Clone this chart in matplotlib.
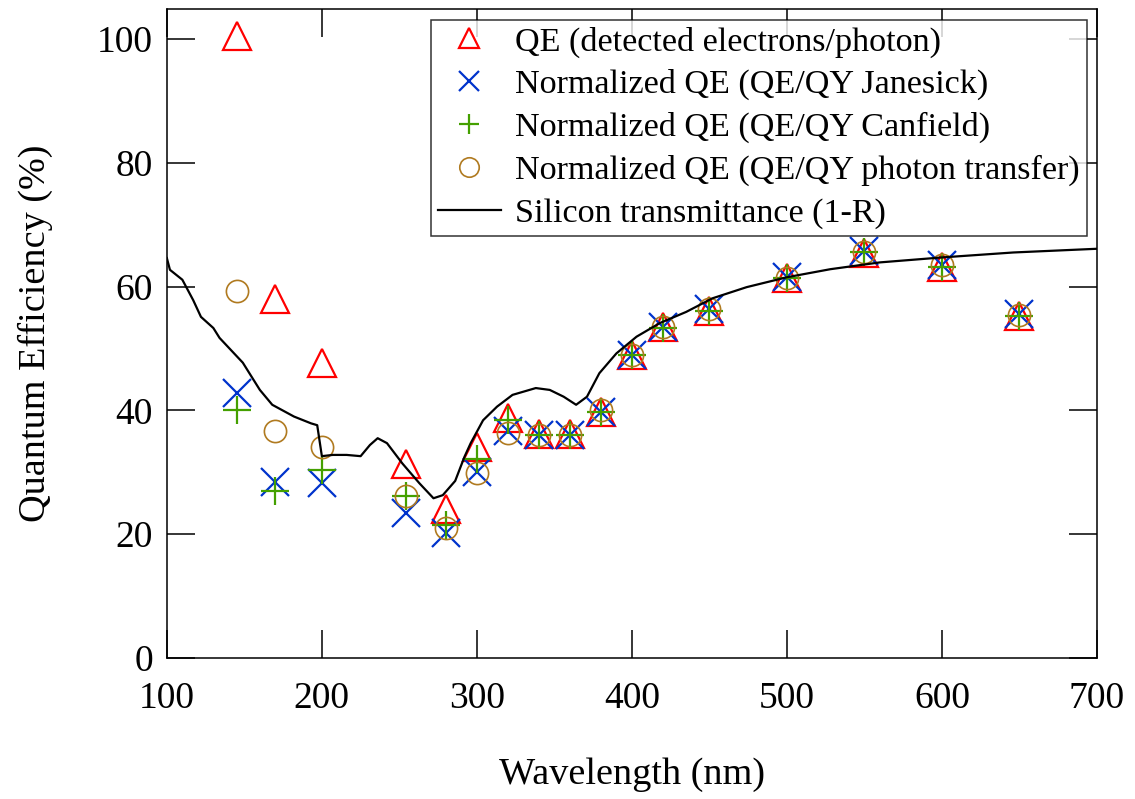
import numpy as np
import matplotlib
matplotlib.use('Agg')
from matplotlib import pyplot as plt

plt.rcParams['font.family'] = ['Liberation Serif', 'DejaVu Serif']

# wavelengths of the measured points (nm)
wl = [145, 170, 200, 254, 280, 300, 320, 340, 360, 380, 400, 420, 450, 500, 550, 600, 650]

qe = [100.5, 58.0, 47.6, 31.4, 24.0, 34.0, 38.8, 36.2, 36.2, 39.7, 48.9, 53.4, 56.1, 61.4, 65.4, 63.2, 55.2]
qe_janesick = [42.8, 28.5, 28.3, 23.4, 20.2, 30.0, 36.6, 36.0, 36.0, 39.7, 48.9, 53.4, 56.3, 61.6, 65.8, 63.5, 55.6]
qe_canfield = [40.1, 26.9, 30.3, 26.2, 21.5, 32.1, 38.4, 36.0, 36.0, 39.7, 48.9, 53.3, 56.0, 61.4, 65.5, 63.2, 55.2]
qe_ptc = [59.2, 36.6, 34.1, 26.1, 21.0, 29.9, 36.3, 36.0, 36.0, 40.0, 49.0, 53.5, 56.3, 61.4, 65.5, 63.4, 55.4]

# silicon transmittance (1-R)
si_wl = [100, 102, 110, 117, 122, 130, 134, 149, 160, 168, 182, 193, 197, 200, 207, 216,
         225, 231, 236, 242, 252, 263, 272, 278, 286, 292, 296, 304, 313, 323, 338, 347,
         356, 364, 371, 379, 390, 403, 418, 435, 452, 474, 500, 528, 560, 600, 646, 700]
si_t = [64.6, 62.7, 61.1, 57.8, 55.1, 53.3, 51.7, 47.7, 43.3, 40.9, 39.0, 37.9, 37.6, 32.6, 32.8, 32.8,
        32.6, 34.4, 35.5, 34.7, 31.4, 28.2, 25.8, 26.3, 28.6, 32.5, 34.7, 38.4, 40.6, 42.5, 43.6, 43.3,
        42.2, 40.9, 42.2, 46.0, 49.2, 51.9, 54.1, 55.9, 58.1, 59.9, 61.5, 62.8, 63.9, 64.7, 65.5, 66.1]

fig = plt.figure(figsize=(11.35, 7.99), dpi=100)
ax = fig.add_axes([0.147, 0.1765, 0.8195, 0.812])

ms = 20
ax.plot(wl, qe, linestyle='none', marker='^', markersize=ms, markerfacecolor='none',
        markeredgecolor='#ff0000', markeredgewidth=1.6, label='QE (detected electrons/photon)')
ax.plot(wl, qe_janesick, linestyle='none', marker='x', markersize=ms, color='#0033cc',
        markeredgewidth=1.6, label='Normalized QE (QE/QY Janesick)')
ax.plot(wl, qe_canfield, linestyle='none', marker='+', markersize=ms, color='#44a000',
        markeredgewidth=1.6, label='Normalized QE (QE/QY Canfield)')
ax.plot(wl, qe_ptc, linestyle='none', marker='o', markersize=16, markerfacecolor='none',
        markeredgecolor='#b07a20', markeredgewidth=1.2, label='Normalized QE (QE/QY photon transfer)')
ax.plot(si_wl, si_t, color='black', linewidth=1.6, label='Silicon transmittance (1-R)')

ax.set_xlim(100, 700)
ax.set_ylim(0, 104.8)
ax.set_xticks([100, 200, 300, 400, 500, 600, 700])
ax.set_yticks([0, 20, 40, 60, 80, 100])
ax.tick_params(direction='in', length=20, width=1.1, labelsize=27, top=True, right=True)
ax.tick_params(axis='x', pad=17)
ax.tick_params(axis='y', pad=10)
for s in ax.spines.values():
    s.set_linewidth(1.1)

ax.set_xlabel('Wavelength (nm)', fontsize=27.5, labelpad=30)
ax.set_ylabel('Quantum Efficiency (%)', fontsize=27.5, labelpad=32)

leg = ax.legend(loc='upper right', bbox_to_anchor=(0.989, 0.984), fontsize=24.6, frameon=True,
                fancybox=False, edgecolor='black', handlelength=1.85, handletextpad=0.42,
                borderpad=0.2, labelspacing=0.34, borderaxespad=0)
leg.get_frame().set_linewidth(1.1)
for h in leg.legend_handles[:4]:
    h.set_markersize(14)

fig.savefig('out.png', dpi=100)
